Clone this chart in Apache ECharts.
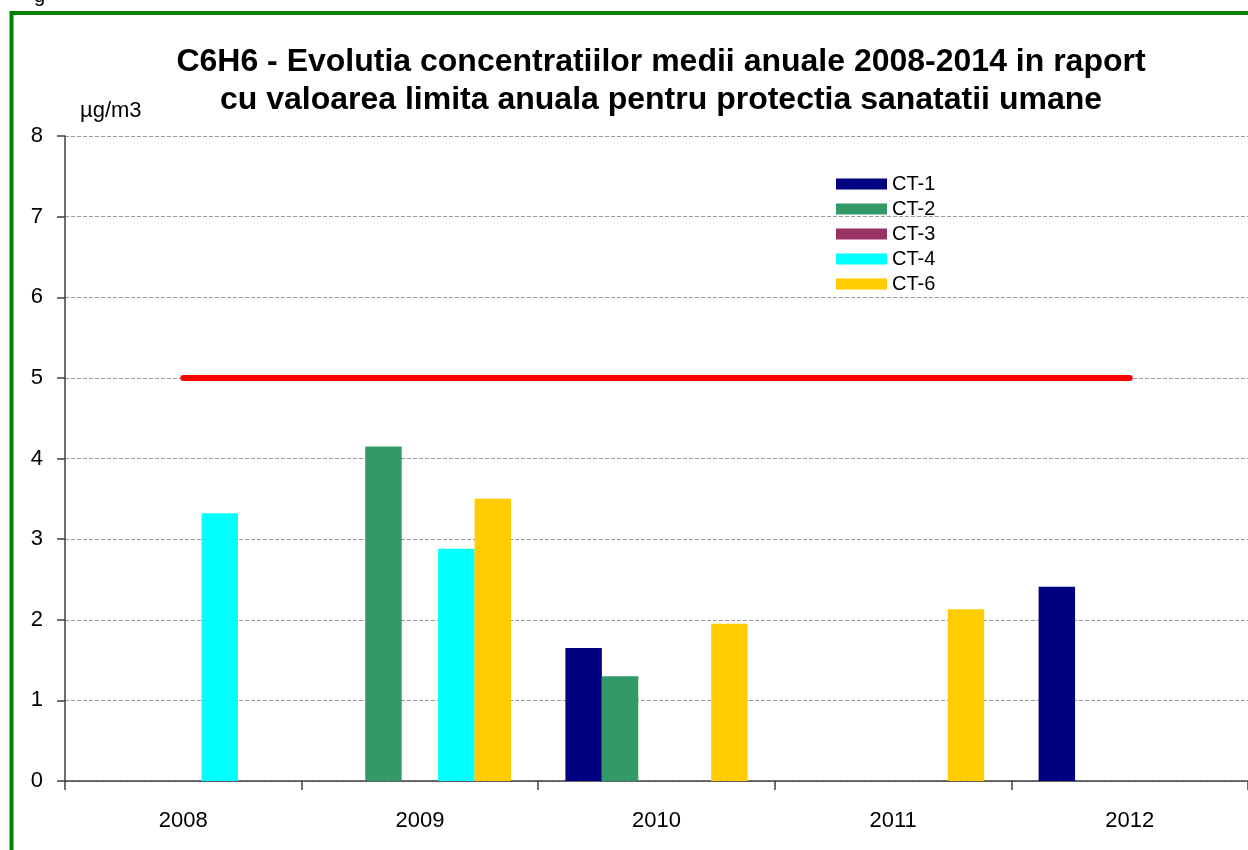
<!DOCTYPE html>
<html><head><meta charset="utf-8">
<script src="https://cdn.jsdelivr.net/npm/echarts@6/dist/echarts.min.js"></script>
<style>html,body{margin:0;padding:0;background:#fff}#c{width:1248px;height:850px}</style>
</head><body><div id="c"></div>
<script>
const years = ['2008','2009','2010','2011','2012'];
const ct1 = [null, null, 1.65, null, 2.41];
const ct2 = [null, 4.15, 1.30, null, null];
const ct3 = [null, null, null, null, null];
const ct4 = [3.32, 2.88, null, null, null];
const ct6 = [null, 3.50, 1.95, 2.13, null];
const limit = [5, 5, 5, 5, 5];

const names = ['CT-1','CT-2','CT-3','CT-4','CT-6'];
const colors = ['#000080','#339966','#993366','#00FFFF','#FFCC00'];
const datas = [ct1, ct2, ct3, ct4, ct6];
const font = 'Liberation Sans, Arial, sans-serif';

const chart = echarts.init(document.getElementById('c'), null, {renderer:'canvas'});
const barSeries = names.map((n,i)=>({
  name:n, type:'bar', data:datas[i], barGap:'0%', barCategoryGap:'23%',
  itemStyle:{color:colors[i]}, z:2
}));
chart.setOption({
  animation:false,
  title:{
    text:'C6H6 - Evolutia concentratiilor medii anuale 2008-2014 in raport\ncu valoarea limita anuala pentru protectia sanatatii umane',
    left:656, top:38, textAlign:'center',
    textStyle:{fontFamily:font, fontSize:32, fontWeight:'bold', color:'#000', lineHeight:38}
  },
  legend:{
    data:names, orient:'vertical', left:831, top:169, itemWidth:51, itemHeight:11, itemGap:5,
    icon:'rect', textStyle:{fontFamily:font, fontSize:20, color:'#000', lineHeight:20}
  },
  grid:{left:65, right:-2, top:136, bottom:69, containLabel:false},
  xAxis:{
    type:'category', data:years, boundaryGap:true,
    axisLine:{lineStyle:{color:'#404040', width:1.5}},
    axisTick:{show:true, length:9, lineStyle:{color:'#404040', width:1.5}},
    axisLabel:{fontFamily:font, fontSize:22, color:'#000', margin:29}
  },
  yAxis:{
    type:'value', min:0, max:8, interval:1,
    name:'µg/m3', nameLocation:'end', nameGap:14,
    nameTextStyle:{fontFamily:font, fontSize:22, color:'#000', align:'left', padding:[0,0,0,15]},
    axisLine:{show:true, lineStyle:{color:'#404040', width:1.5}},
    axisTick:{show:true, length:8, lineStyle:{color:'#404040', width:1.5}},
    axisLabel:{fontFamily:font, fontSize:22, color:'#000', margin:22},
    splitLine:{show:true, lineStyle:{color:'#999', type:[4,2], width:1}}
  },
  series:[...barSeries, {
    name:'limita', type:'line', data:limit, symbol:'none',
    lineStyle:{color:'#FF0000', width:6, cap:'round'}, z:3
  }],
  graphic:[{
    type:'rect', shape:{x:11.5, y:13, width:1300, height:900},
    style:{fill:'none', stroke:'#008000', lineWidth:4}, z:-1, silent:true
  },{
    type:'text', left:34, top:-14, style:{text:'g', font:'20px Liberation Sans, Arial', fill:'#000'}
  }]
});
</script></body></html>
